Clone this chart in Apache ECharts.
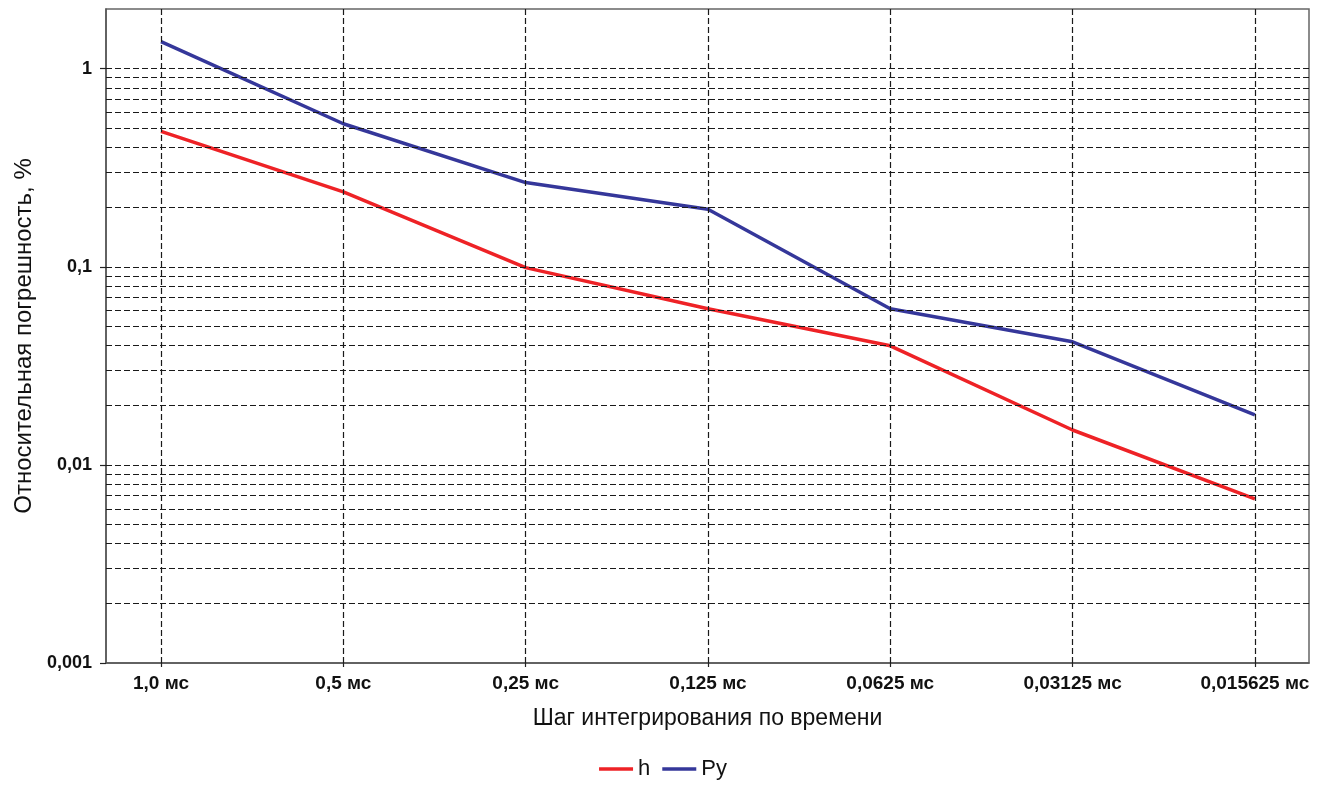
<!DOCTYPE html>
<html>
<head>
<meta charset="utf-8">
<script src="https://cdn.jsdelivr.net/npm/echarts@6/dist/echarts.min.js"></script>
<style>html,body{margin:0;padding:0;background:#fff;}#c{width:1326px;height:787px;}</style>
</head>
<body>
<div id="c"></div>
<script>
const categories = ['1,0 мс', '0,5 мс', '0,25 мс', '0,125 мс', '0,0625 мс', '0,03125 мс', '0,015625 мс'];
const hValues = [0.482, 0.239, 0.099, 0.0614, 0.0399, 0.0150, 0.00673];
const pyValues = [1.37, 0.527, 0.266, 0.195, 0.0614, 0.0418, 0.0179];
const yMajorTicks = [0.001, 0.01, 0.1, 1];
const yMin = 0.001, yMax = 2;
const xMin = -0.302, xMax = 6.297;

const hGridValues = [];
[0.001, 0.01, 0.1, 1].forEach(function (d) {
  for (let k = 1; k <= 9; k++) {
    const v = Number((k * d).toPrecision(3));
    if (v > yMin && v < yMax) hGridValues.push(v);
  }
});

const dash = { color: '#1a1a1a', width: 1.2, type: [6, 3] };
const font = 'Liberation Sans, Arial, sans-serif';

const chart = echarts.init(document.getElementById('c'), null, { renderer: 'canvas' });
chart.setOption({
  backgroundColor: '#fff',
  animation: false,
  grid: { left: 106, right: 17, top: 9, bottom: 124, show: true, borderColor: '#666', borderWidth: 1.5, containLabel: false },
  legend: {
    data: ['h', 'Py'], bottom: 2, left: 'center', icon: 'rect', itemWidth: 34, itemHeight: 3.5, itemGap: 12,
    textStyle: { fontFamily: font, fontSize: 22, color: '#111' }
  },
  xAxis: {
    type: 'value', min: xMin, max: xMax,
    name: 'Шаг интегрирования по времени', nameLocation: 'middle', nameGap: 44,
    nameTextStyle: { fontFamily: font, fontSize: 23, color: '#111' },
    axisLine: { show: true, onZero: false, lineStyle: { color: '#555', width: 1.5 } },
    axisTick: { show: true, customValues: [0, 1, 2, 3, 4, 5, 6], length: 4, lineStyle: { color: '#222', width: 1.2 } },
    axisLabel: {
      customValues: [0, 1, 2, 3, 4, 5, 6], margin: 11,
      formatter: function (v) { return categories[Math.round(v)]; },
      fontFamily: font, fontSize: 19, fontWeight: 'bold', color: '#111'
    },
    splitLine: { show: false }
  },
  yAxis: {
    type: 'log', logBase: 10, min: yMin, max: yMax,
    name: 'Относительная погрешность, %', nameLocation: 'middle', nameGap: 70,
    nameTextStyle: { fontFamily: font, fontSize: 24, color: '#111' },
    axisLine: { show: true, onZero: false, lineStyle: { color: '#555', width: 1.5 } },
    axisTick: { show: true, length: 6, lineStyle: { color: '#222', width: 1.2 } },
    axisLabel: {
      margin: 14, showMaxLabel: false,
      formatter: function (v) {
        const n = Number(Number(v).toPrecision(3));
        if (yMajorTicks.indexOf(n) < 0) return '';
        return String(n).replace('.', ',');
      },
      fontFamily: font, fontSize: 18, fontWeight: 'bold', color: '#111'
    },
    splitLine: { show: false }
  },
  series: [
    {
      name: 'grid', type: 'line', data: [], z: 1, silent: true,
      markLine: {
        silent: true, symbol: 'none', label: { show: false }, animation: false,
        precision: 6,
        lineStyle: dash,
        data: hGridValues.map(function (v) {
          return [{ coord: [xMin, v] }, { coord: [xMax, v] }];
        }).concat(categories.map(function (c, i) {
          return [{ coord: [i, yMin] }, { coord: [i, yMax] }];
        }))
      }
    },
    {
      name: 'h', type: 'line', z: 3, symbol: 'none', smooth: false,
      lineStyle: { color: '#ee2226', width: 3.5 }, itemStyle: { color: '#ee2226' },
      data: hValues.map(function (v, i) { return [i, v]; })
    },
    {
      name: 'Py', type: 'line', z: 3, symbol: 'none', smooth: false,
      lineStyle: { color: '#35379a', width: 3.5 }, itemStyle: { color: '#35379a' },
      data: pyValues.map(function (v, i) { return [i, v]; })
    }
  ]
});
</script>
</body>
</html>
